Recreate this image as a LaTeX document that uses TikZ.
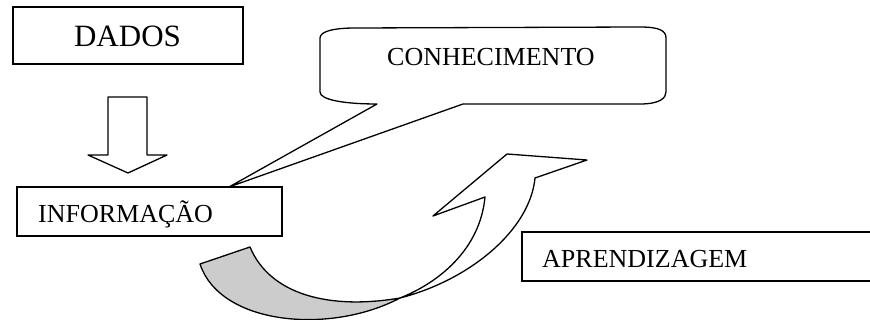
\documentclass[tikz,border=0pt]{standalone}
\usepackage{fontspec}
\setmainfont{Liberation Serif}
\begin{document}
\begin{tikzpicture}[x=1pt,y=-1pt,
  box/.style={draw,line width=1.3pt,inner sep=0pt},
  lbl/.style={inner sep=0pt,anchor=base west,font=\fontsize{26}{30}\selectfont},
  shp/.style={draw,line width=1.3pt,line join=round}]
\useasboundingbox (0,0) rectangle (870,320);
\clip (0,0) rectangle (870,320);
% boxes
\node[box,minimum width=230pt,minimum height=57pt] (dbox) at (128,35.5) {};
\node[lbl,font=\fontsize{31}{36}\selectfont,anchor=base] (dados) at (127.5,47) {DADOS};
\node[box,minimum width=265pt,minimum height=49pt] (ibox) at (149.5,211.5) {};
\node[lbl] (info) at (38,223) {INFORMAÇÃO};
\node[box,minimum width=378pt,minimum height=49pt] (abox) at (711,256.5) {};
\node[lbl] (aprend) at (542,268) {APRENDIZAGEM};
% block arrow down
\draw[shp,fill=white] (108,97) -- (147,97) -- (147,155) -- (167,155) -- (128,173) -- (88,155) -- (108,155) -- cycle;
% callout
\coordinate (tip) at (229,187);
\draw[shp,fill=white] (377,104) -- (tip) -- (463,104) -- (640,104)
  .. controls (660,104) and (666,98) .. (666,92) -- (666,38)
  .. controls (666,31) and (660,27) .. (640,27) -- (355,28)
  .. controls (335,28) and (320,31) .. (320,38) -- (320,92)
  .. controls (320,100) and (345,104) .. (377,104) -- cycle;
\node[lbl] (conh) at (387,66) {CONHECIMENTO};
% curved ribbon arrow
\draw[shp,fill=gray!40] (200,264) -- (250,247)
  .. controls (270,295) and (330,310) .. (400,298)
  .. controls (330,335) and (220,325) .. (200,264) -- cycle;
\draw[shp,fill=white] (400,298) .. controls (470,280) and (530,230) .. (535,178)
  -- (587,160) -- (507,154) -- (433,216) -- (485,197)
  .. controls (480,250) and (438,283) .. (400,298) -- cycle;
\end{tikzpicture}
\end{document}
